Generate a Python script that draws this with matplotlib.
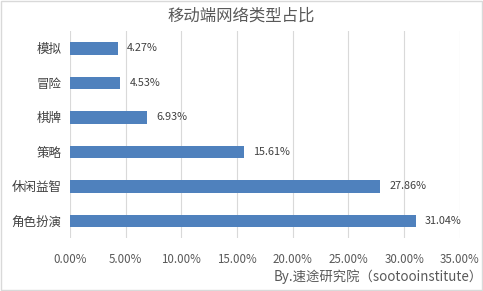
import matplotlib.pyplot as plt

plt.rcParams['font.family'] = ['Noto Sans CJK SC', 'DejaVu Sans']

categories = ['模拟', '冒险', '棋牌', '策略', '休闲益智', '角色扮演']
values = [4.27, 4.53, 6.93, 15.61, 27.86, 31.04]
xticks = [0, 5, 10, 15, 20, 25, 30, 35]

fig = plt.figure(figsize=(4.83, 2.91), dpi=100)
ax = fig.add_axes([0.145, 0.182, 0.807, 0.711])

ypos = list(range(len(categories)))
ax.barh(ypos, values, height=0.36, color='#4f81bd', zorder=3)
for y, v in zip(ypos, values):
    ax.text(v + 0.8, y, '%.2f%%' % v, va='center', ha='left', fontsize=7.8, color='#404040')

ax.set_xlim(0, 35)
ax.set_ylim(5.5, -0.5)
ax.set_yticks(ypos)
ax.set_yticklabels(categories, fontsize=9, color='#404040')
ax.set_xticks(xticks)
ax.set_xticklabels(['%.2f%%' % t for t in xticks], fontsize=8.3, color='#595959')
ax.tick_params(length=0, pad=6)
ax.tick_params(axis='x', pad=11)
ax.grid(axis='x', color='#d9d9d9', lw=0.8, zorder=0)
for s in ax.spines.values():
    s.set_visible(False)

fig.text(0.5, 0.945, '移动端网络类型占比', ha='center', va='center', fontsize=11.8, color='#595959')
fig.text(1.0, 0.05, 'By.速途研究院（sootooinstitute）', ha='right', va='center', fontsize=9.6, color='#595959')

fig.patches.append(plt.Rectangle((0.002, 0.003), 0.995, 0.994, transform=fig.transFigure,
                                 fill=False, edgecolor='#d9d9d9', lw=1))

plt.savefig('out.png', dpi=100)
